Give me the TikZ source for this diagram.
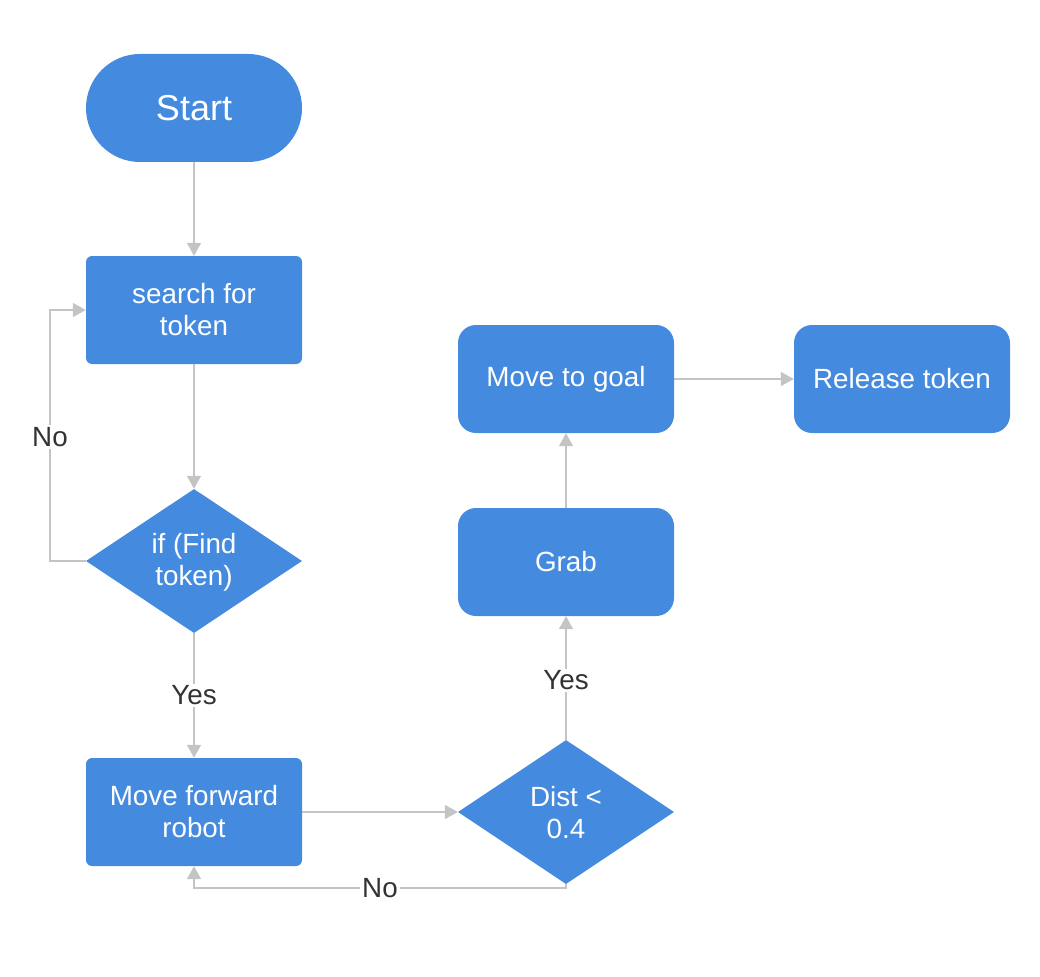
\documentclass[tikz,border=0pt]{standalone}
\usepackage{fontspec}
\setmainfont{Liberation Sans}
\usetikzlibrary{shapes.geometric,arrows.meta}
\definecolor{boxblue}{HTML}{448ADF}
\definecolor{linegray}{HTML}{C4C4C4}
\definecolor{labelgray}{HTML}{333333}
\tikzset{
  base/.style={fill=boxblue, draw=none, text=white, font=\fontsize{27.8}{32}\selectfont, align=center, inner sep=0pt},
  sharpbox/.style={base, rectangle, rounded corners=6, minimum width=216, minimum height=108},
  softbox/.style={base, rectangle, rounded corners=18, minimum width=216, minimum height=108},
  term/.style={base, rectangle, rounded corners=54, minimum width=216, minimum height=108, font=\fontsize{36}{40}\selectfont},
  decision/.style={base, diamond, aspect=1.5, minimum width=216, minimum height=144},
  conn/.style={draw=linegray, line width=1.6, -{Triangle[length=13,width=14]}},
  lbl/.style={fill=white, text=labelgray, font=\fontsize{27.8}{32}\selectfont, inner sep=2pt},
}
\begin{document}
\begin{tikzpicture}[x=1pt,y=-1pt]
\useasboundingbox (0,0) rectangle (1040,976);
\node[term] (start) at (194,108) {Start};
\node[sharpbox] (search) at (194,310) {search for\\token};
\node[decision] (find) at (194,561) {};
\node[base, fill=none] at (194,562) {if (Find\\token)};
\node[sharpbox] (fwd) at (194,812) {Move forward\\robot};
\node[decision] (dist) at (566,812) {};
\node[base, fill=none] at (566,813) {Dist <\\0.4};
\node[softbox] (grab) at (566,562) {Grab};
\node[softbox] (goal) at (566,379) {Move to goal};
\node[softbox] (rel) at (902,379) {Release token};
\coordinate (nl) at (50,561);
\coordinate (nb) at (566,888);
\draw[conn] (start.south) -- (search.north);
\draw[conn] (search.south) -- (find.north);
\draw[conn] (find.west) -- (nl) -- (nl |- search.west) -- (search.west);
\node[lbl] at (50,437) {No};
\draw[conn] (find.south) -- node[lbl] {Yes} (fwd.north);
\draw[conn] (fwd.east) -- (dist.west);
\draw[conn] (dist.south) -- (nb) -- (nb -| fwd.south) -- (fwd.south);
\node[lbl] at (380,888) {No};
\draw[conn] (dist.north) -- node[lbl, pos=0.48] {Yes} (grab.south);
\draw[conn] (grab.north) -- (goal.south);
\draw[conn] (goal.east) -- (rel.west);
\end{tikzpicture}
\end{document}
